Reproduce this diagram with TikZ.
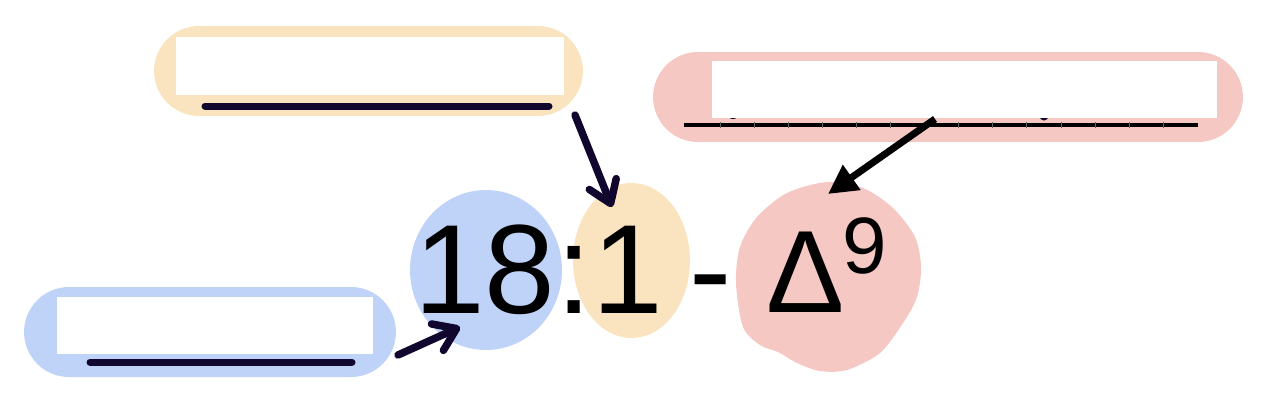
\documentclass[tikz,border=0pt]{standalone}
\usepackage{fontspec}
\setmainfont{Liberation Sans}
\usetikzlibrary{shapes.geometric, arrows.meta}
\definecolor{chainblue}{RGB}{191,210,248}
\definecolor{bondorange}{RGB}{250,228,192}
\definecolor{deltared}{RGB}{245,200,195}
\definecolor{inknavy}{RGB}{16,6,46}

\begin{document}
\begin{tikzpicture}[x=0.02cm, y=-0.02cm,
    pill/.style={rectangle, rounded corners=0.9cm, minimum height=1.8cm, inner sep=0},
    mask/.style={rectangle, fill=white, inner sep=0},
    blob/.style={ellipse, inner sep=0},
    num/.style={inner sep=0, anchor=base west, font=\fontsize{72.27}{80}\selectfont},
    uline/.style={line width=0.14cm, line cap=round, inknavy},
    pointer/.style={line width=0.15cm, line cap=round, inknavy,
        -{Straight Barb[length=0.42cm, width=0.58cm, round]}}]
\useasboundingbox (0,0) rectangle (1261,400);
% Label pills
\node[pill, fill=bondorange, minimum width=8.58cm] (bondpill) at (368.5,71) {};
\node[mask, minimum width=7.76cm, minimum height=1.16cm] (bondmask) at (370,66) {};
\draw[uline] (205,106) -- (549,106);

\node[pill, fill=chainblue, minimum width=7.44cm] (chainpill) at (210,332) {};
\node[mask, minimum width=6.32cm, minimum height=1.14cm] (chainmask) at (215,325.5) {};
\draw[uline] (90,362) -- (352,362);

\node[pill, fill=deltared, minimum width=11.8cm] (deltapill) at (948,97) {};
\fill[inknavy] (733,113) circle (6);
\fill[inknavy] (1044,116) circle (4.5);
\node[mask, minimum width=10.1cm, minimum height=1.14cm] (deltamask) at (964.5,89.5) {};
\draw[line width=0.08cm, black] (684,125) -- (1198,125);
\foreach \k in {0,...,13}
    \draw[line width=0.3pt, black!60] (720+34.08*\k,122) -- (720+34.08*\k,128);

% Highlight blobs
\node[blob, fill=chainblue, minimum width=3.04cm, minimum height=3.2cm] (chainblob) at (486,270) {};
\node[blob, fill=bondorange, minimum width=2.34cm, minimum height=3.1cm] (bondblob) at (631.5,260.5) {};
\fill[deltared] plot[smooth cycle] coordinates {(827,182) (863,188) (893,208) (915,237)
    (921,267) (917,297) (903,323) (880,353) (847,370) (820,371) (797,363) (778,352)
    (760,345) (743,327) (736,283) (740,247) (757,217) (787,193)};

% Notation
\node[num] (carbons) at (414,313) {18};
\node[num] (colon) at (carbons.base east) {:};
\node[num] (bonds) at (colon.base east) {1};
\node[num] (dash) at (689,313) {-};
\node[num, font=\fontsize{66.6}{72}\selectfont] (delta) at (766,312) {Δ};
\node[num, font=\fontsize{45.5}{50}\selectfont] (position) at (842,273) {9};

% Pointers
\coordinate (chaintail) at (398,355);
\coordinate (chaintip) at (460,327);
\coordinate (bondtail) at (575,115);
\coordinate (bondtip) at (612,207);
\coordinate (deltatail) at (935,119);
\coordinate (deltatip) at (828,194);
\draw[pointer] (chaintail) -- (chaintip);
\draw[pointer] (bondtail) -- (bondtip);
\draw[line width=0.14cm, black, -{Triangle[length=0.58cm, width=0.58cm]}] (deltatail) -- (deltatip);
\end{tikzpicture}
\end{document}
